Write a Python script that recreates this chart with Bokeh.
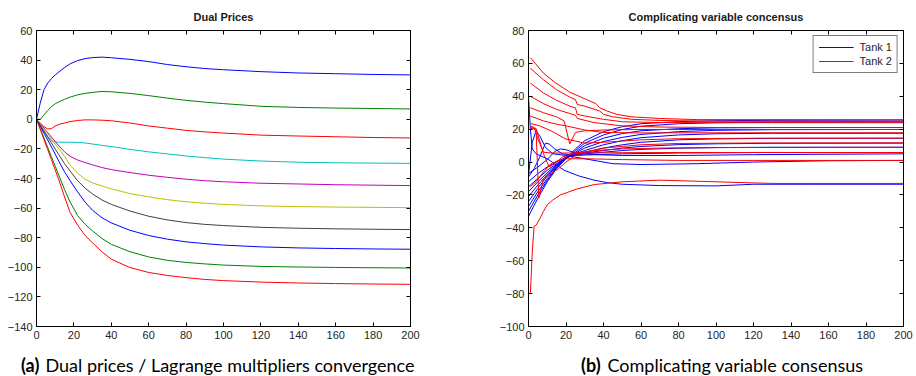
from bokeh.plotting import figure
from bokeh.layouts import row, column
from bokeh.models import (LinearAxis, Range1d, Label, Title, ColumnDataSource,
                          FixedTicker, CustomJSTickFormatter)
from bokeh.embed import file_html
from bokeh.resources import INLINE

# ---------------- data: (a) dual prices ----------------
dual_x = [0, 2, 4, 6, 8, 10, 12, 15, 18, 22, 26, 30, 35, 40, 50, 60, 70, 80, 90, 100, 120, 140, 160, 180, 200]
dual_blue1 = [0, 11, 20, 24.5, 27.5, 30, 32, 35, 37.5, 39.7, 41, 41.7, 42, 41.6, 40.5, 39, 37, 35.5, 34.3, 33.5, 32.2, 31.3, 30.8, 30.3, 30]
dual_green1 = [0, 0, 3, 6, 8.5, 10.5, 11.8, 13.5, 15, 16.5, 17.5, 18.2, 18.8, 18.6, 17.5, 16, 14.3, 12.8, 11.6, 10.6, 8.8, 8, 7.6, 7.3, 7]
dual_red1 = [0, -2.5, -5, -6.5, -6.3, -4.5, -3.5, -2.5, -1.5, -0.8, -0.4, -0.4, -0.6, -1, -2.5, -4.5, -6, -7.5, -8.5, -9.3, -10.7, -11.3, -11.8, -12.3, -12.6]
dual_cyan = [0, -4, -8, -11.5, -14.5, -15.3, -15.5, -15.5, -15.5, -15.6, -16, -16.7, -17.6, -18.4, -20.3, -22, -23.4, -24.8, -25.9, -26.9, -28.2, -29, -29.4, -29.6, -29.8]
dual_magenta = [0, -3, -6, -9, -12, -15, -18, -22, -25, -27.5, -29.2, -30.8, -32.6, -34, -36, -37.8, -39.2, -40.5, -41.5, -42.2, -43.2, -43.7, -44.2, -44.5, -44.8]
dual_yellow = [0, -3.3, -6.7, -10, -13.3, -16.7, -20, -25, -31, -36.5, -40.5, -43, -45, -47, -50.2, -52.4, -54.3, -55.7, -56.7, -57.5, -58.5, -59, -59.3, -59.5, -59.7]
dual_gray = [0, -4, -8, -12, -16, -20, -24, -30, -35, -41.5, -46.5, -50.5, -54.5, -57.5, -62, -65.5, -68, -69.8, -71, -71.8, -73, -73.6, -74, -74.3, -74.5]
dual_blue2 = [0, -4.7, -9.4, -14, -18.7, -23.5, -28.5, -35.5, -41.5, -49, -56, -61.5, -66.5, -70, -75, -78.5, -81, -82.8, -84, -85, -86.2, -86.9, -87.3, -87.6, -87.8]
dual_green2 = [0, -6.3, -12.6, -19, -25.3, -31.7, -38, -47.5, -56, -65, -71, -75.5, -80.5, -84.5, -89.5, -93, -95.3, -96.7, -97.7, -98.5, -99.4, -99.8, -100.1, -100.3, -100.5]
dual_red2 = [0, -6.8, -13.6, -20.5, -27.3, -34.2, -41, -52.5, -63, -71.5, -78.5, -83.5, -89.5, -94.5, -100.2, -103.5, -105.5, -107, -108.2, -109, -110, -110.6, -111, -111.3, -111.5]
dual_series = [dual_blue1, dual_green1, dual_red1, dual_cyan, dual_magenta,
               dual_yellow, dual_gray, dual_blue2, dual_green2, dual_red2]
dual_colors = ["#0000ff", "#008000", "#ff0000", "#00bfbf", "#bf00bf",
               "#bfbf00", "#404040", "#0000ff", "#008000", "#ff0000"]

# ---------------- data: (b) complicating variable consensus ----------------
rise_x = [0, 5, 10, 15, 20, 25, 30, 40, 50, 60, 80, 100, 130, 200]
tank1_x = [
    [0, 1, 2, 4, 10, 19, 27, 35, 42, 50, 70, 100, 120, 150, 200],
    [0, 2, 4, 6, 9, 13, 20, 30, 45, 60, 90, 120, 160, 200],
    [0, 3, 6, 9, 11, 14, 18, 25, 35, 50, 80, 120, 200],
    [0, 5, 10, 14, 17, 20, 25, 35, 50, 80, 120, 200],
    rise_x, rise_x, rise_x, rise_x, rise_x, rise_x, rise_x, rise_x,
]
tank1_y = [
    [40, 20, 8, 5, 2, -5, -8.5, -11, -12.5, -13.5, -14.3, -14.5, -13.5, -13.5, -13.5],
    [-8, 12, 19, 16, 9, 5, 4, 2, -1, -1.5, -1, 0, 0.8, 1],
    [-9, -4, 3, 11.5, 11, 8, 5, 4, 4.5, 5, 5.5, 5.8, 5.8],
    [-7, -3, 1.5, 6.5, 8, 7.5, 5.5, 4.5, 4, 4, 4.5, 5],
    [-33, -22, -12, -4, 2, 8, 13, 18.5, 21.5, 23.3, 24.6, 25.1, 25.4, 25.5],
    [-30, -20, -11, -3.5, 2, 7, 11.5, 16.5, 19.8, 21.8, 23.3, 23.9, 24.2, 24.3],
    [-27, -18, -10, -3, 2, 6, 10, 14.5, 17.3, 19, 20.3, 20.8, 21, 21],
    [-24, -16, -8.5, -2.5, 2.5, 5.5, 8.5, 12.5, 15, 16.8, 18.5, 19.3, 19.7, 19.8],
    [-21, -14, -7.5, -2, 2.5, 5, 7, 10.5, 13, 14.8, 16.5, 17.2, 17.5, 17.5],
    [-18, -12, -6.5, -1.5, 2.5, 4.5, 6, 8.5, 10.5, 12, 13.5, 14.1, 14.4, 14.5],
    [-15, -10, -5, -1, 3, 4.5, 5.5, 7, 8.5, 9.5, 10.6, 11.1, 11.4, 11.5],
    [-12, -7, -3, 0, 3, 4, 5, 6, 7, 7.7, 8.4, 8.8, 9, 9],
]
tank2_x = [
    [1, 8, 14, 22, 30, 36, 38, 42, 47, 55, 70, 90, 200],
    [1, 8, 15, 22, 25, 26, 30, 38, 40, 45, 55, 70, 100, 200],
    [1, 8, 15, 22, 25, 26, 30, 40, 50, 70, 200],
    [1, 8, 15, 22, 25, 26, 35, 50, 70, 100, 200],
    [1, 8, 15, 19, 22, 25, 30, 40, 60, 100, 200],
    [1, 8, 15, 20, 30, 40, 60, 80, 120, 200],
    [1, 6, 12, 20, 30, 40, 60, 80, 120, 200],
    [1, 4, 5.5, 8, 12, 16, 20, 25, 30, 40, 60, 80, 120, 200],
    [1, 4, 8, 11, 14, 18, 25, 35, 50, 70, 100, 200],
    [1, 3, 5, 8, 12, 20, 30, 50, 80, 200],
    [1, 4, 8, 12, 16, 20, 30, 50, 80, 120, 200],
    [1, 2, 3, 4, 6, 8, 10, 13, 17, 26, 35, 50, 70, 100, 130, 200],
]
tank2_y = [
    [63.5, 54, 48.5, 42.5, 38.5, 35.5, 33, 31, 29, 27.5, 26.5, 25.8, 25.7],
    [57, 50, 44, 39.5, 38, 35, 34, 31, 29, 27.5, 26, 25.3, 24.8, 24.6],
    [48, 42, 37.5, 34, 33, 29, 28, 26, 24.5, 24, 23.9],
    [40, 35.5, 32, 29.5, 28.5, 26.5, 24, 22, 21.3, 21, 21],
    [33, 30, 27.5, 25, 11, 18, 19, 19.5, 19.8, 19.8, 19.8],
    [28, 25, 23, 22, 19.5, 18, 17.7, 17.8, 17.8, 17.8],
    [23.5, 22, 19, 14, 11.5, 12, 13.5, 14.2, 14.5, 14.5],
    [20.5, 20, -22, -10, -7, -4, 0, 4, 6, 8.5, 10.5, 11.3, 11.6, 11.7],
    [21, 20.5, 5, -3, -1, 3, 5.5, 7, 8, 8.5, 8.8, 9],
    [22, 21, 14, 6, 5.5, 5.5, 5.5, 5.7, 5.8, 5.8],
    [-15, -12, -6, -1, 1, 2, 2, 1.5, 1, 1, 1],
    [-80, -55, -39, -38.5, -34.5, -30, -26, -23, -20, -16.3, -13.7, -12, -11, -12, -13, -13],
]

x_ticks = [0, 20, 40, 60, 80, 100, 120, 140, 160, 180, 200]
dual_y_ticks = [-140, -120, -100, -80, -60, -40, -20, 0, 20, 40, 60]
cons_y_ticks = [-100, -80, -60, -40, -20, 0, 20, 40, 60, 80]

TICK_FONT = "Liberation Sans"


def style_axis(ax, labels=True):
    ax.axis_line_color = "black"
    ax.axis_line_width = 1
    ax.major_tick_in = 4
    ax.major_tick_out = 0
    ax.major_tick_line_color = "black"
    ax.minor_tick_line_color = None
    ax.major_label_text_font = TICK_FONT
    ax.major_label_text_font_size = "11px"
    ax.major_label_text_color = "#262626"
    ax.major_label_standoff = 4
    if not labels:
        ax.formatter = CustomJSTickFormatter(code="return ''")
        ax.major_label_standoff = 0
        ax.major_label_text_font_size = "1px"


def make_panel(width, bl, br, y_lo, y_hi, y_ticks, title):
    p = figure(width=width, height=346, x_range=Range1d(0, 200),
               y_range=Range1d(y_lo, y_hi), output_backend="svg",
               toolbar_location=None, x_axis_location=None, y_axis_location=None,
               min_border_left=bl, min_border_right=br,
               min_border_top=30, min_border_bottom=20)
    p.outline_line_color = "black"
    p.background_fill_color = "white"
    p.border_fill_color = "white"
    p.grid.visible = False
    xt = FixedTicker(ticks=x_ticks)
    yt = FixedTicker(ticks=y_ticks)
    for loc, tick, lab in [("below", xt, True), ("left", yt, True),
                           ("above", xt, False), ("right", yt, False)]:
        ax = LinearAxis(ticker=tick)
        style_axis(ax, lab)
        p.add_layout(ax, loc)
    p.add_layout(Title(text=title, align="center", text_font=TICK_FONT,
                       text_font_style="bold", text_font_size="11px",
                       text_color="#1a1a1a", standoff=16), "above")
    return p


# ---------------- panel (a) ----------------
pa = make_panel(460, 36, 50, -140, 60, dual_y_ticks, "Dual Prices")
for ys, c in zip(dual_series, dual_colors):
    pa.line(dual_x, ys, line_color=c, line_width=1)

# ---------------- panel (b) ----------------
pb = make_panel(456, 68, 13, -100, 80, cons_y_ticks,
                "Complicating variable concensus")
src1 = ColumnDataSource(dict(xs=tank1_x, ys=tank1_y,
                             color=["#0000ff"] * len(tank1_x)))
src2 = ColumnDataSource(dict(xs=tank2_x, ys=tank2_y,
                             color=["#ff0000"] * len(tank2_x)))
pb.multi_line("xs", "ys", source=src1, line_color="color", line_width=1,
              legend_label="Tank 1")
pb.multi_line("xs", "ys", source=src2, line_color="color", line_width=1,
              legend_label="Tank 2")

lg = pb.legend[0]
lg.location = "top_right"
lg.margin = 5
lg.padding = 5
lg.spacing = 2
lg.glyph_width = 35
lg.glyph_height = 12
lg.label_height = 12
lg.label_standoff = 6
lg.label_text_font = TICK_FONT
lg.label_text_font_size = "11px"
lg.label_text_color = "#262626"
lg.border_line_color = "black"
lg.border_line_width = 1
lg.background_fill_color = "white"
lg.background_fill_alpha = 1
_props = lg.properties()
if "item_border_line_color" in _props:
    lg.item_border_line_color = None
if "item_background_fill_color" in _props:
    lg.item_background_fill_color = None

# ---------------- caption strip ----------------
pc = figure(width=916, height=30, x_range=Range1d(0, 916), y_range=Range1d(0, 30),
            output_backend="svg", toolbar_location=None,
            x_axis_location=None, y_axis_location=None, min_border=0)
pc.outline_line_color = None
pc.grid.visible = False
pc.border_fill_color = "white"
cap_parts = [
    (20.5, "(a)", "bold"),
    (45, "Dual prices / Lagrange multipliers convergence", "normal"),
    (580.5, "(b)", "bold"),
    (607, "Complicating variable consensus", "normal"),
]
for cx, txt, style in cap_parts:
    pc.add_layout(Label(x=cx, y=12, text=txt, text_align="left",
                        text_baseline="alphabetic", text_font="Lato",
                        text_font_style=style, text_font_size="18px",
                        text_color="#000000"))

layout = column(row(pa, pb, spacing=0), pc, spacing=0)
open("out.html", "w").write(file_html(layout, INLINE))
